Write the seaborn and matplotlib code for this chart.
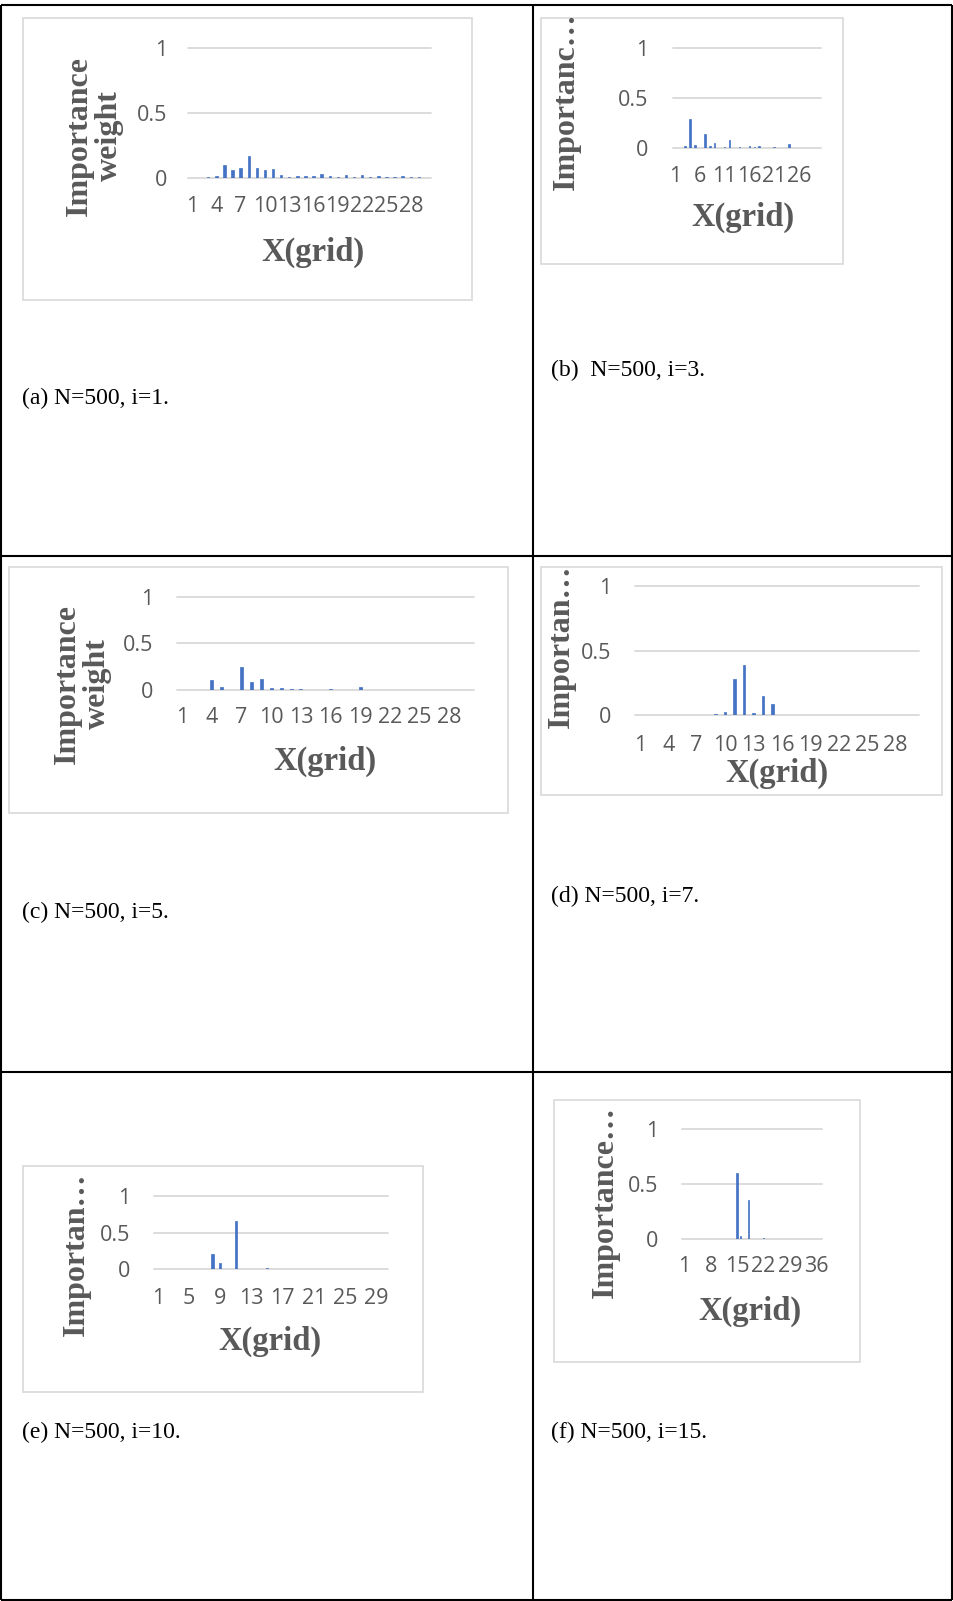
import matplotlib
matplotlib.use("Agg")
import matplotlib.pyplot as plt
from matplotlib.patches import Rectangle
import pandas as pd
import seaborn as sns

# importance weight per grid cell
weights_a = [0, 0, 0.003, 0.01, 0.10, 0.06, 0.077, 0.164, 0.077, 0.06,
             0.067, 0.018, 0.008, 0.015, 0.015, 0.015, 0.03, 0.013, 0.003, 0.023,
             0.003, 0.018, 0.003, 0.01, 0.008, 0.003, 0.01, 0.003, 0.008, 0]
weights_b = [0, 0.007, 0.023, 0.29, 0.03, 0.003, 0.14, 0.02, 0.053, 0.007,
             0.01, 0.08, 0.003, 0.013, 0.003, 0.02, 0.013, 0.02, 0.003, 0.003,
             0.013, 0.003, 0, 0.043, 0.003, 0, 0.003, 0.003, 0, 0]
weights_c = [0, 0, 0, 0.105, 0.036, 0, 0.245, 0.088, 0.116, 0.018,
             0.025, 0.014, 0.01, 0, 0, 0.007, 0, 0, 0.032, 0,
             0, 0, 0, 0, 0.003, 0, 0, 0, 0, 0]
weights_d = [0, 0, 0, 0, 0, 0, 0, 0, 0.008, 0.028,
             0.28, 0.39, 0.018, 0.15, 0.088, 0, 0, 0, 0, 0,
             0, 0, 0, 0, 0, 0, 0, 0, 0, 0]
weights_e = [0, 0, 0, 0, 0, 0, 0, 0.21, 0.08, 0,
             0.66, 0, 0, 0, 0.02, 0, 0, 0, 0, 0,
             0, 0, 0, 0, 0, 0, 0, 0, 0, 0]
weights_f = [0, 0, 0, 0, 0, 0, 0, 0, 0, 0,
             0, 0, 0, 0, 0.60, 0.027, 0, 0.353, 0, 0,
             0, 0.005, 0, 0, 0, 0, 0, 0, 0, 0,
             0, 0, 0, 0, 0, 0, 0]

tick_steps = [3, 5, 3, 3, 4, 7]
ylabels = ["Importance\nweight", "Importanc\u2026", "Importance\nweight",
           "Importan\u2026", "Importan\u2026", "Importance\u2026"]
xlabel = "X(grid)"
captions = ["(a) N=500, i=1.", "(b)  N=500, i=3.", "(c) N=500, i=5.",
            "(d) N=500, i=7.", "(e) N=500, i=10.", "(f) N=500, i=15."]
all_weights = [weights_a, weights_b, weights_c, weights_d, weights_e, weights_f]

# layout in pixels: chart box, plot area (x0, x1, y_top, y_bottom),
# y-label centre, x-label centre, right edge of y ticks, centre of x ticks, caption
layout = [
    dict(box=(23, 18, 472, 300), ax=(188, 431, 47.7, 177.7), ylab=(94, 136), xlab=(313, 252),
         ytr=167, xty=210, cap=(22.5, 398)),
    dict(box=(541, 18, 843, 264), ax=(672.7, 821, 47.7, 148.3), ylab=(566.7, 101), xlab=(743, 217.7),
         ytr=648, xty=180.7, cap=(551.5, 370)),
    dict(box=(9, 567, 508, 813), ax=(177.3, 474, 596.7, 690), ylab=(82, 684), xlab=(325, 761.7),
         ytr=153.3, xty=721.7, cap=(22.5, 912)),
    dict(box=(541, 567, 942, 795), ax=(635, 919.3, 585.7, 715.3), ylab=(561.7, 646), xlab=(776.7, 773.3),
         ytr=611.7, xty=749, cap=(551.5, 896)),
    dict(box=(23, 1166, 423, 1392), ax=(154, 388, 1195.7, 1269.3), ylab=(76.7, 1254), xlab=(270, 1341.7),
         ytr=130, xty=1302.3, cap=(22.5, 1432)),
    dict(box=(554, 1100, 860, 1362), ax=(682.3, 822, 1128.7, 1239), ylab=(605, 1202), xlab=(750, 1311.7),
         ytr=658.3, xty=1270.7, cap=(551.5, 1432)),
]

W, H = 954, 1601
DPI = 100
BAR = "#4472C4"
GREY_TXT = "#595959"
GRID = "#D9D9D9"

sns.set_style("white")
plt.rcParams["font.family"] = ["Open Sans", "DejaVu Sans"]

fig = plt.figure(figsize=(W / DPI, H / DPI), dpi=DPI)

# page layer in pixel coords: table rules, chart frames, captions
page = fig.add_axes([0, 0, 1, 1], zorder=0)
page.set_xlim(0, W)
page.set_ylim(H, 0)
page.axis("off")

for x in [1, 533, 952]:
    page.plot([x, x], [5, 1600], color="black", lw=1.5, solid_capstyle="butt")
for y in [5, 556, 1072, 1600]:
    page.plot([1, 952], [y, y], color="black", lw=1.5, solid_capstyle="butt")


def to_fig(x, y):
    return x / W, 1 - y / H


for weights, step, ylab, cap, lay in zip(all_weights, tick_steps, ylabels, captions, layout):
    bx0, by0, bx1, by1 = lay["box"]
    page.add_patch(Rectangle((bx0, by0), bx1 - bx0, by1 - by0, fill=True,
                             facecolor="white", edgecolor=GRID, lw=1.2))
    page.text(lay["cap"][0], lay["cap"][1], cap, ha="left", va="center",
              family="Liberation Serif", fontsize=17, color="black")

    x0, x1, yt, yb = lay["ax"]
    fx0, fyb = to_fig(x0, yb)
    fx1, fyt = to_fig(x1, yt)
    ax = fig.add_axes([fx0, fyb, fx1 - fx0, fyt - fyb], zorder=1)
    ax.patch.set_alpha(0)

    n = len(weights)
    df = pd.DataFrame({"grid": [str(i + 1) for i in range(n)], "w": weights})
    sns.barplot(data=df, x="grid", y="w", ax=ax, color=BAR, width=0.3,
                saturation=1, order=list(df["grid"]),
                edgecolor=BAR, linewidth=0.5)

    ax.set_xlim(-0.5, n - 0.5)
    ax.set_ylim(0, 1)
    ax.set_yticks([0, 0.5, 1])
    ax.set_yticklabels(["0", "0.5", "1"])
    ticks = list(range(0, n, step))
    ax.set_xticks(ticks)
    ax.set_xticklabels([str(t + 1) for t in ticks])
    ax.set_axisbelow(True)
    ax.yaxis.grid(True, color=GRID, lw=1.3)
    ax.xaxis.grid(False)
    for gl in ax.get_ygridlines():
        gl.set_clip_on(False)
    sns.despine(ax=ax, left=True, bottom=True)

    ypad = (x0 - lay["ytr"]) * 72 / DPI
    xpad = (lay["xty"] - yb - 14.5) * 72 / DPI
    ax.tick_params(axis="y", length=0, pad=ypad, labelsize=15.5, labelcolor=GREY_TXT)
    ax.tick_params(axis="x", length=0, pad=xpad, labelsize=15.5, labelcolor=GREY_TXT)

    ax.set_xlabel(xlabel, family="Liberation Serif", fontweight="bold", fontsize=23.5,
                  color=GREY_TXT, va="center", ha="center")
    ax.set_ylabel(ylab, family="Liberation Serif", fontweight="bold", fontsize=23,
                  color=GREY_TXT, va="center", ha="center", linespacing=1.05)
    ax.xaxis.set_label_coords(*to_fig(*lay["xlab"]), transform=fig.transFigure)
    ax.yaxis.set_label_coords(*to_fig(*lay["ylab"]), transform=fig.transFigure)

fig.savefig("out.png", dpi=DPI)
